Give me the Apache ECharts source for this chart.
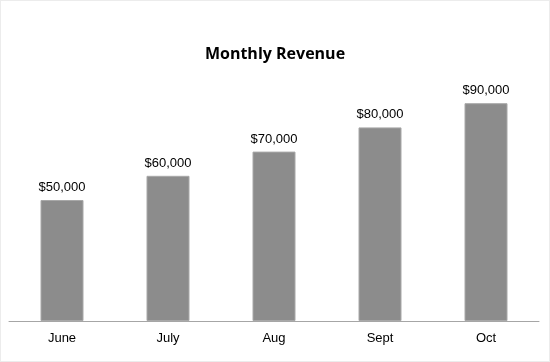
<!DOCTYPE html>
<html><head><meta charset="utf-8">
<script src="https://cdn.jsdelivr.net/npm/echarts@6/dist/echarts.min.js"></script>
<style>html,body{margin:0;padding:0;background:#fff}#c{width:550px;height:362px;box-sizing:border-box;border:1px solid #ececec}</style>
</head><body><div id="c"></div>
<script>
const months = ['June','July','Aug','Sept','Oct'];
const revenue = [50000, 60000, 70000, 80000, 90000];
const chart = echarts.init(document.getElementById('c'), null, {renderer:'canvas'});
chart.setOption({
  animation:false,
  title:{text:'Monthly Revenue', left:'center', top:40, textStyle:{fontFamily:'Open Sans', fontWeight:'bold', fontSize:16, color:'#000'}},
  grid:{left:8, right:10, top:78, bottom:40},
  xAxis:{type:'category', data:months, axisTick:{show:false},
    axisLine:{lineStyle:{color:'#a6a6a6', width:1}},
    axisLabel:{color:'#000', fontFamily:'Liberation Sans', fontSize:13, margin:11}},
  yAxis:{type:'value', min:0, max:100000, show:false, splitLine:{show:false}},
  series:[{type:'bar', data:revenue, barWidth:43,
    itemStyle:{color:'#8c8c8c', borderColor:'#a8a8a8', borderWidth:1},
    label:{show:true, position:'top', distance:6, color:'#000', fontFamily:'Liberation Sans', fontSize:13,
      formatter:p=>'$'+p.value.toLocaleString('en-US')}}]
});
</script></body></html>
